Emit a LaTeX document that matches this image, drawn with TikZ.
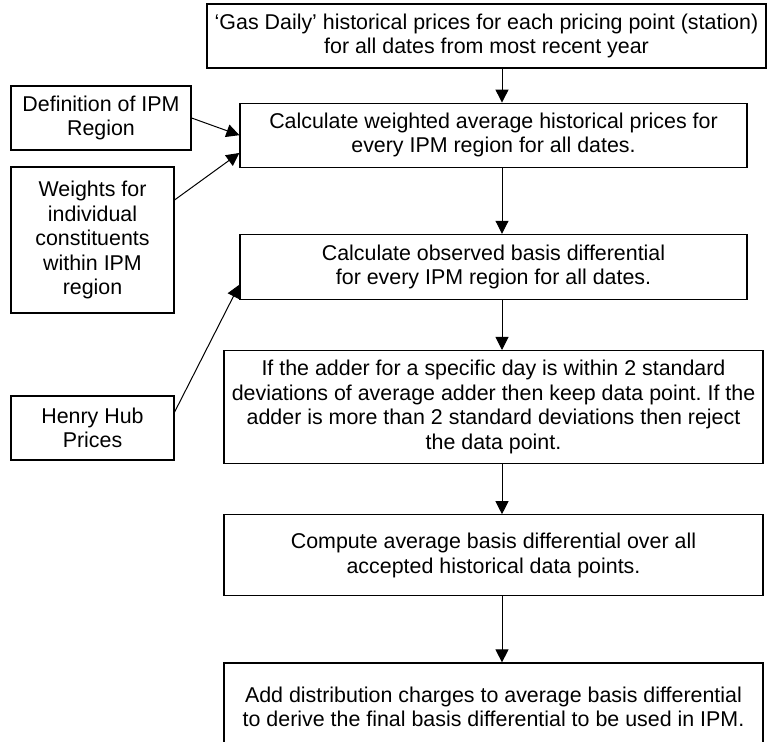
\documentclass[tikz,border=0pt]{standalone}
\usepackage{fontspec}
\setmainfont{Liberation Sans}
\usetikzlibrary{arrows.meta, positioning}
\frenchspacing
\tikzstyle{process} = [rectangle, draw, line width=0.6pt, align=center, inner sep=0pt, font=\fontsize{10.7}{12.25}\selectfont]
\tikzstyle{source} = [process]
\tikzstyle{flow} = [line width=0.5pt, -{Triangle[length=6.5pt, width=6.5pt]}]

\begin{document}
\begin{tikzpicture}[x=0.5pt, y=-0.5pt]
	\useasboundingbox (0,0) rectangle (767,742);

	% Main steps
	\node (gasdaily) [process, minimum width=279.5pt, minimum height=32pt] at (486.5,36) {`Gas Daily' historical prices for each pricing point (station)\\for all dates from most recent year};
	\node (wavg) [process, minimum width=253.5pt, minimum height=32pt, below=17pt of gasdaily, xshift=3.5pt] {Calculate weighted average historical prices for\\every IPM region for all dates.};
	\node (basis) [process, minimum width=253.5pt, minimum height=32.5pt, below=33pt of wavg] {Calculate observed basis differential\\for every IPM region for all dates.};
	\node (filter) [process, minimum width=269.5pt, minimum height=56.5pt, below=25pt of basis] {If the adder for a specific day is within 2 standard\\deviations of average adder then keep data point. If the\\adder is more than 2 standard deviations then reject\\the data point.};
	\node (avgbasis) [process, minimum width=269.5pt, minimum height=40.5pt, below=25pt of filter] {Compute average basis differential over all\\accepted historical data points.};
	\node (final) [process, minimum width=269.5pt, minimum height=44pt, below=33pt of avgbasis] {Add distribution charges to average basis differential\\to derive the final basis differential to be used in IPM.};

	% Inputs
	\node (regiondef) [source, minimum width=90pt, minimum height=32pt] at (101,118) {Definition of IPM\\Region};
	\node (weights) [source, minimum width=81.5pt, minimum height=73pt] at (92.5,240) {Weights for\\individual\\constituents\\within IPM\\region};
	\node (henryhub) [source, minimum width=81.5pt, minimum height=32pt] at (92.5,428) {Henry Hub\\Prices};

	\coordinate (spine) at (502,0);

	% Arrows - main flow
	\draw[flow] (gasdaily.south -| spine) -- (wavg.north -| spine);
	\draw[flow] (wavg.south -| spine) -- (basis.north -| spine);
	\draw[flow] (basis.south -| spine) -- (filter.north -| spine);
	\draw[flow] (filter.south -| spine) -- (avgbasis.north -| spine);
	\draw[flow] (avgbasis.south -| spine) -- (final.north -| spine);

	% Arrows - inputs
	\draw[flow] (regiondef.east) -- (wavg.west);
	\draw[flow] (weights.26) -- (wavg.184);
	\draw[flow] (henryhub.11) -- (basis.184);

\end{tikzpicture}
\end{document}
